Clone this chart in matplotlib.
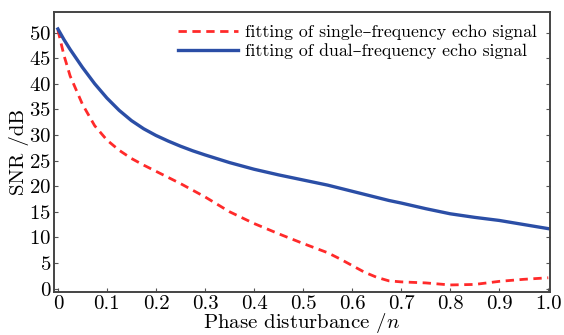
import numpy as np
import matplotlib.pyplot as plt

plt.rcParams['font.family'] = ['cmr10', 'DejaVu Serif']
plt.rcParams['mathtext.fontset'] = 'cm'
plt.rcParams['axes.formatter.use_mathtext'] = True

phase = [0, 0.0125, 0.025, 0.05, 0.075, 0.1, 0.125, 0.15, 0.175, 0.2, 0.225,
         0.25, 0.275, 0.3, 0.35, 0.4, 0.45, 0.5, 0.55, 0.575, 0.6, 0.625,
         0.65, 0.675, 0.7, 0.75, 0.8, 0.85, 0.9, 0.95, 1.0]
snr_single = [50.5, 45.5, 41.5, 36, 31.8, 29.0, 27.0, 25.4, 24.1, 22.9, 21.7,
              20.5, 19.2, 17.9, 15.0, 12.7, 10.7, 8.8, 7.0, 5.8, 4.5, 3.2,
              2.2, 1.5, 1.3, 1.1, 0.7, 0.8, 1.4, 1.8, 2.1]
snr_dual = [50.7, 48.6, 46.7, 43.2, 40.0, 37.2, 34.8, 32.8, 31.2, 29.9, 28.8,
            27.8, 26.9, 26.1, 24.6, 23.3, 22.2, 21.2, 20.2, 19.6, 19.0, 18.4,
            17.8, 17.2, 16.7, 15.6, 14.6, 13.9, 13.3, 12.5, 11.7]

fig = plt.figure(figsize=(5.64, 3.35), dpi=100)
ax = fig.add_axes([0.0957, 0.128, 0.879, 0.836])

ax.plot(phase, snr_single, '--', color='#ff2a2a', lw=2, dashes=(3, 2),
        label='fitting of single–frequency echo signal')
ax.plot(phase, snr_dual, '-', color='#2b4ea6', lw=2.4,
        label='fitting of dual–frequency echo signal')

ax.set_xlim(-0.008, 1.003)
ax.set_ylim(-0.7, 54)
ax.set_xticks(np.arange(0, 1.01, 0.1))
ax.set_xticklabels(['0'] + ['%.1f' % v for v in np.arange(0.1, 1.01, 0.1)])
ax.set_yticks(range(0, 51, 5))
ax.tick_params(direction='in', length=3, labelsize=15, right=True, pad=2,
               color='#555555')
for s in ax.spines.values():
    s.set_color('#444444')
    s.set_linewidth(1.4)

ax.set_xlabel('Phase disturbance /$n$', fontsize=15, labelpad=-1)
ax.set_ylabel('SNR /dB', fontsize=15, labelpad=0)
ax.legend(loc='upper right', frameon=False, fontsize=12.8, handlelength=3.4,
          handletextpad=0.4, labelspacing=0.2, borderaxespad=0.3)

fig.savefig('out.png')
